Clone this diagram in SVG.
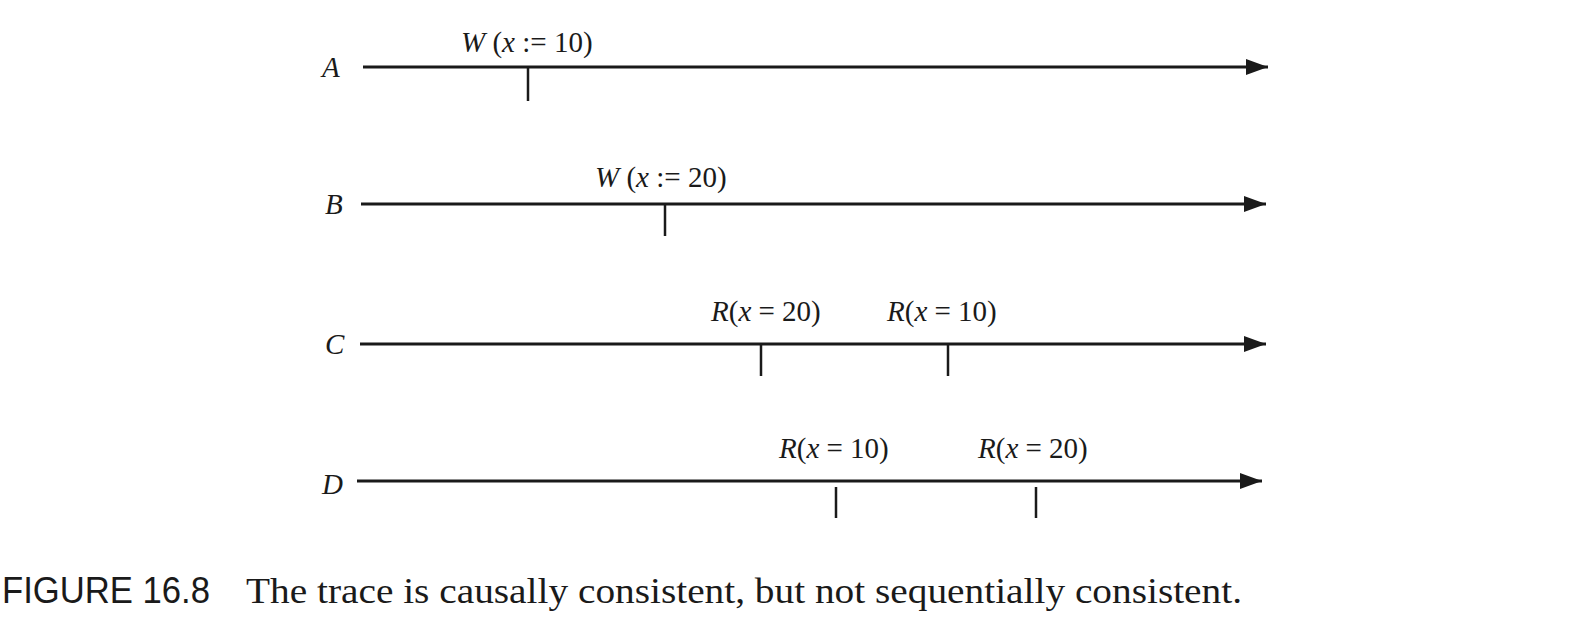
<svg xmlns="http://www.w3.org/2000/svg" width="1590" height="624" viewBox="0 0 1590 624">
<defs>
<marker id="ah" markerWidth="22" markerHeight="16" refX="22" refY="8" orient="auto" markerUnits="userSpaceOnUse">
<path d="M0,0 L22,8 L0,16 Z" fill="#1a1a1a"/>
</marker>
<style>
.line{stroke:#1a1a1a;stroke-width:3;fill:none}
.tick{stroke:#1a1a1a;stroke-width:2.5;fill:none}
.lbl{font-family:"Liberation Serif",serif;font-size:29px;fill:#1a1a1a}
.it{font-style:italic}
.cap{font-family:"Liberation Serif",serif;font-size:36px;fill:#1a1a1a}
.capsans{font-family:"Liberation Sans",sans-serif;font-size:36px;fill:#1a1a1a}
</style>
</defs>
<rect width="1590" height="624" fill="#fff"/>
<g id="A">
<text class="lbl it" x="322" y="77">A</text>
<text class="lbl" x="461" y="52"><tspan class="it">W</tspan> (<tspan class="it">x</tspan> := 10)</text>
</g>
<g id="B">
<text class="lbl it" x="325" y="214">B</text>
<text class="lbl" x="595" y="187"><tspan class="it">W</tspan> (<tspan class="it">x</tspan> := 20)</text>
</g>
<g id="C">
<text class="lbl it" x="325" y="354">C</text>
<text class="lbl" x="711" y="321"><tspan class="it">R</tspan>(<tspan class="it">x</tspan> = 20)</text>
<text class="lbl" x="887" y="321"><tspan class="it">R</tspan>(<tspan class="it">x</tspan> = 10)</text>
</g>
<g id="D">
<text class="lbl it" x="322" y="494">D</text>
<text class="lbl" x="779" y="458"><tspan class="it">R</tspan>(<tspan class="it">x</tspan> = 10)</text>
<text class="lbl" x="978" y="458"><tspan class="it">R</tspan>(<tspan class="it">x</tspan> = 20)</text>
</g>
<g id="connectors">
<line class="line" x1="363" y1="67" x2="1268" y2="67" marker-end="url(#ah)"/>
<line class="line" x1="361" y1="204" x2="1266" y2="204" marker-end="url(#ah)"/>
<line class="line" x1="360" y1="344" x2="1266" y2="344" marker-end="url(#ah)"/>
<line class="line" x1="357" y1="481" x2="1262" y2="481" marker-end="url(#ah)"/>
<line class="tick" x1="528" y1="67" x2="528" y2="101"/>
<line class="tick" x1="665" y1="204" x2="665" y2="236"/>
<line class="tick" x1="761" y1="344" x2="761" y2="376"/>
<line class="tick" x1="948" y1="344" x2="948" y2="376"/>
<line class="tick" x1="836" y1="487" x2="836" y2="518"/>
<line class="tick" x1="1036" y1="487" x2="1036" y2="518"/>
</g>
<g id="caption">
<text class="capsans" x="2" y="603" textLength="208" lengthAdjust="spacingAndGlyphs">FIGURE 16.8</text>
<text class="cap" x="246" y="603" textLength="996" lengthAdjust="spacingAndGlyphs">The trace is causally consistent, but not sequentially consistent.</text>
</g>
</svg>
